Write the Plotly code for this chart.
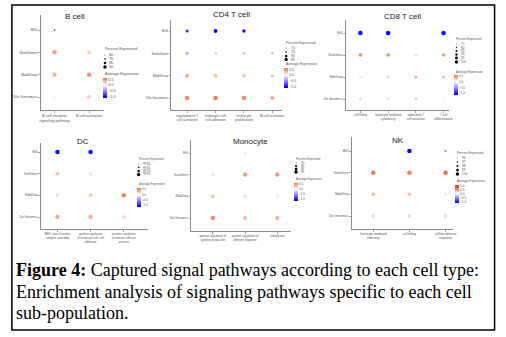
import plotly.graph_objects as go

W, H = 506, 337

ROWS = ["BGI", "SeekGene", "MobiDrop", "10x Genomics"]

# ---------------- data ----------------
bcell_title = "B cell"
bcell_pathways = ["B cell receptor<br>signaling pathway", "B cell activation"]
bcell_avg_exp = [[-1.1, 0.0], [0.4, 0.2], [0.35, 0.5], [0.05, 0.2]]
bcell_pct_exp = [[66, 58], [88, 84], [86, 87], [85, 85]]
bcell_pct_ticks = [60, 70, 80, 90]
bcell_avg_ticks = [0.5, 0.0, -0.5, -1.0]

cd4_title = "CD4 T cell"
cd4_pathways = ["regulation of T<br>cell activation", "leukocyte cell-<br>cell adhesion",
                "leukocyte<br>proliferation", "B cell activation"]
cd4_avg_exp = [[-0.9, -1.1, -1.0, -0.1], [-0.4, -0.2, -0.25, -0.45],
               [0.35, 0.25, 0.25, 0.3], [0.5, 0.55, 0.5, 0.45]]
cd4_pct_exp = [[80, 84, 82, 66], [80, 79, 79, 74], [85, 85, 85, 80], [88, 88, 88, 82]]
cd4_pct_ticks = [70, 75, 80, 85]
cd4_avg_ticks = [0.5, 0.0, -0.5, -1.0]

cd8_title = "CD8 T cell"
cd8_pathways = ["cell killing", "leukocyte mediated<br>cytotoxicity",
                "alpha-beta T<br>cell activation", "T cell<br>differentiation"]
cd8_avg_exp = [[-1.1, -1.1, -0.35, -1.05], [0.5, 0.5, 0.15, 0.4],
               [0.1, 0.2, 0.35, 0.3], [0.15, 0.1, 0.2, 0.0]]
cd8_pct_exp = [[99, 99, 73, 99], [93, 93, 90, 93], [90, 90, 90, 90], [90, 90, 90, 88]]
cd8_pct_ticks = [75, 80, 85, 90, 95, 100]
cd8_avg_ticks = [0.5, 0.0, -0.5, -1.0]

dc_title = "DC"
dc_pathways = ["MHC class II protein<br>complex assembly",
               "positive regulation<br>of leukocyte cell\u2212cell<br>adhesion",
               "positive regulation<br>of immune effector<br>process"]
dc_avg_exp = [[-1.1, -1.05, -0.3], [0.25, 0.1, -0.1], [0.15, 0.25, 0.6], [0.35, 0.35, 0.2]]
dc_pct_exp = [[99.96, 99.96, 99.80], [99.93, 99.93, 99.80], [99.92, 99.92, 99.95], [99.95, 99.95, 99.92]]
dc_pct_ticks = [99.80, 99.85, 99.90, 99.95]
dc_avg_ticks = [0.5, 0.0, -0.5, -1.0]

mono_title = "Monocyte"
mono_pathways = ["positive regulation of<br>cytokine production",
                 "positive regulation of<br>defense response", "chemotaxis"]
mono_avg_exp = [[-0.5, -0.8, -0.4], [0.1, 0.4, 0.45], [0.25, 0.15, 0.05], [0.5, 0.3, 0.35]]
mono_pct_exp = [[62, 64, 62], [88, 90, 90], [86, 86, 84], [92, 88, 88]]
mono_pct_ticks = [70, 80, 85, 90]
mono_avg_ticks = [0.5, 0.0, -0.5, -1.0]

nk_title = "NK"
nk_pathways = ["leukocyte mediated<br>immunity", "cell killing", "cellular defense<br>response"]
nk_avg_exp = [[0.0, -1.1, -0.6], [0.6, 0.55, 0.7], [0.3, 0.25, 0.1], [0.15, 0.2, 0.15]]
nk_pct_exp = [[95.5, 100, 97], [100, 100, 100], [99, 99, 98.5], [99, 99, 99]]
nk_pct_ticks = [96, 97, 98, 99, 100]
nk_avg_ticks = [1.0, 0.5, 0.0, -0.5, -1.0]

caption_lines = [
    "<b>Figure 4:</b> Captured signal pathways according to each cell type:",
    "Enrichment analysis of signaling pathways specific to each cell",
    "sub-population.",
]

# ---------------- layout helpers ----------------
def fx(px):
    return px / W

def fy(py):
    return 1 - py / H

COLOR_STOPS = [(-1.1, (0, 0, 255)), (-0.55, (150, 125, 255)), (0.0, (255, 255, 255)),
               (0.55, (240, 125, 95)), (1.1, (225, 45, 25))]

def color_at(v):
    if v <= COLOR_STOPS[0][0]:
        c = COLOR_STOPS[0][1]
    elif v >= COLOR_STOPS[-1][0]:
        c = COLOR_STOPS[-1][1]
    else:
        for (v0, c0), (v1, c1) in zip(COLOR_STOPS[:-1], COLOR_STOPS[1:]):
            if v0 <= v <= v1:
                t = (v - v0) / (v1 - v0)
                c = tuple(c0[k] + t * (c1[k] - c0[k]) for k in range(3))
                break
    return "rgb(%d,%d,%d)" % tuple(round(x) for x in c)

def make_scale(cmin, cmax, n=21):
    return [[i / (n - 1), color_at(cmin + (cmax - cmin) * i / (n - 1))] for i in range(n)]

def size_of(p, pmin, pmax, lo=0.6, hi=4.5):
    if pmax == pmin:
        return hi
    t = (p - pmin) / (pmax - pmin)
    t = min(max(t, 0.0), 1.0)
    return lo + (hi - lo) * t

panels = [
    dict(title=bcell_title, paths=bcell_pathways, avg=bcell_avg_exp, pct=bcell_pct_exp,
         pticks=bcell_pct_ticks, aticks=bcell_avg_ticks, cmin=-1.15, cmax=0.62, fs=3.8,
         ax=(40, 104, 54, 89), ay=(15, 110, 30, 97), title_xy=(75, 17),
         lx=103, pe_y=49, entries=[55, 59, 63, 67], ae_y=74, cb=(78, 98)),
    dict(title=cd4_title, paths=cd4_pathways, avg=cd4_avg_exp, pct=cd4_pct_exp,
         pticks=cd4_pct_ticks, aticks=cd4_avg_ticks, cmin=-1.15, cmax=0.62, fs=3.5,
         ax=(172, 284, 188, 274), ay=(20, 110, 31, 98), title_xy=(233, 15),
         lx=286, pe_y=43, entries=[48, 52, 56, 59.5], ae_y=64, cb=(68, 88)),
    dict(title=cd8_title, paths=cd8_pathways, avg=cd8_avg_exp, pct=cd8_pct_exp,
         pticks=cd8_pct_ticks, aticks=cd8_avg_ticks, cmin=-1.15, cmax=0.58, fs=3.0,
         ax=(348, 452, 363, 447), ay=(20, 110, 33, 99), title_xy=(406, 17),
         lx=458, pe_y=39, entries=[44, 47.5, 51, 54.5, 58, 62], ae_y=72, cb=(75, 95)),
    dict(title=dc_title, paths=dc_pathways, avg=dc_avg_exp, pct=dc_pct_exp,
         pticks=dc_pct_ticks, aticks=dc_avg_ticks, cmin=-1.15, cmax=0.62, fs=2.9,
         ax=(40, 148, 57, 124), ay=(143, 229, 152, 217), title_xy=(83, 141),
         lx=137, pe_y=159, entries=[164, 167.5, 171, 174.5], ae_y=184, cb=(188, 207)),
    dict(title=mono_title, paths=mono_pathways, avg=mono_avg_exp, pct=mono_pct_exp,
         pticks=mono_pct_ticks, aticks=mono_avg_ticks, cmin=-1.15, cmax=0.58, fs=2.9,
         ax=(192, 293, 214, 279), ay=(140, 231, 153, 218), title_xy=(252, 141),
         lx=296, pe_y=159, entries=[163, 166, 169, 172], ae_y=179, cb=(183, 201)),
    dict(title=nk_title, paths=nk_pathways, avg=nk_avg_exp, pct=nk_pct_exp,
         pticks=nk_pct_ticks, aticks=nk_avg_ticks, cmin=-1.15, cmax=1.05, fs=3.1,
         ax=(354, 457, 376, 449), ay=(137, 229, 151, 216), title_xy=(401, 140),
         lx=459, pe_y=153, entries=[158, 162, 166, 170, 174], ae_y=181, cb=(185, 203)),
]

FONT = "Liberation Sans, Arial, sans-serif"
TICKC = "#555555"
LINEC = "#8a8a8a"

fig = go.Figure()
layout = dict(width=W, height=H, margin=dict(l=0, r=0, t=0, b=0),
              paper_bgcolor="white", plot_bgcolor="white", showlegend=False,
              font=dict(family=FONT))
annotations = []
shapes = []

for i, p in enumerate(panels):
    k = i + 1
    sx = "" if k == 1 else str(k)
    paths = p["paths"]
    n = len(paths)
    fs = p["fs"]
    xs, ys, cs, ss = [], [], [], []
    flat_pct = [v for row in p["pct"] for v in row]
    pmin, pmax = min(flat_pct), max(flat_pct)
    for r, rname in enumerate(ROWS):
        for c, path in enumerate(paths):
            xs.append(path)
            ys.append(rname)
            cs.append(p["avg"][r][c])
            ss.append(size_of(p["pct"][r][c], pmin, pmax))
    fig.add_trace(go.Scatter(
        x=xs, y=ys, mode="markers", xaxis="x" + sx, yaxis="y" + sx,
        marker=dict(size=ss, color=cs, coloraxis="coloraxis" + sx, line=dict(width=0), opacity=1),
        hoverinfo="skip"))

    x0, x1, cf, cl = p["ax"]
    dx = (cl - cf) / (n - 1)
    xr = [(x0 - cf) / dx, (n - 1) + (x1 - cl) / dx]
    yt, yb, rt, rb = p["ay"]
    dy = (rb - rt) / 3
    yr = [-(yb - rb) / dy, 3 + (rt - yt) / dy]

    layout["xaxis" + sx] = dict(
        domain=[fx(x0), fx(x1)], anchor="y" + sx, type="category",
        categoryorder="array", categoryarray=paths, range=xr,
        showgrid=False, zeroline=False, showline=True, linecolor=LINEC, linewidth=1,
        ticks="outside", ticklen=1.5, tickcolor=LINEC, tickwidth=0.8,
        tickfont=dict(size=fs, color=TICKC, family=FONT), tickangle=0, fixedrange=True)
    layout["yaxis" + sx] = dict(
        domain=[fy(yb), fy(yt)], anchor="x" + sx, type="category",
        categoryorder="array", categoryarray=ROWS[::-1], range=yr,
        showgrid=False, zeroline=False, showline=True, linecolor=LINEC, linewidth=1,
        ticks="outside", ticklen=1.5, tickcolor=LINEC, tickwidth=0.8,
        tickfont=dict(size=fs, color=TICKC, family=FONT), fixedrange=True)

    cmin, cmax = p["cmin"], p["cmax"]
    cbt, cbb = p["cb"]
    layout["coloraxis" + sx] = dict(
        cmin=cmin, cmax=cmax, colorscale=make_scale(cmin, cmax),
        colorbar=dict(x=fx(p["lx"]), xanchor="left", y=fy(cbt), yanchor="top",
                      len=cbb - cbt, lenmode="pixels", thickness=4, thicknessmode="pixels",
                      outlinewidth=0, xpad=0, ypad=0, ticks="",
                      tickvals=p["aticks"],
                      ticktext=[("%.1f" % v).replace("-", "\u2212") for v in p["aticks"]],
                      tickfont=dict(size=fs, color=TICKC, family=FONT)))

    tx, ty = p["title_xy"]
    annotations.append(dict(text=p["title"], x=fx(tx), y=fy(ty), xref="paper", yref="paper",
                            xanchor="center", yanchor="middle", showarrow=False,
                            font=dict(size=8, color="#222222", family=FONT)))
    lx = p["lx"]
    annotations.append(dict(text="Percent Expressed", x=fx(lx), y=fy(p["pe_y"]), xref="paper",
                            yref="paper", xanchor="left", yanchor="middle", showarrow=False,
                            font=dict(size=fs, color=TICKC, family=FONT)))
    annotations.append(dict(text="Average Expression", x=fx(lx), y=fy(p["ae_y"]), xref="paper",
                            yref="paper", xanchor="left", yanchor="middle", showarrow=False,
                            font=dict(size=fs, color=TICKC, family=FONT)))
    dec = 2 if any(v != int(v) for v in p["pticks"]) else 0
    for tv, ey in zip(p["pticks"], p["entries"]):
        d = size_of(tv, min(p["pticks"]), max(p["pticks"]), lo=0.8, hi=3.4)
        shapes.append(dict(type="circle", xref="paper", yref="paper",
                           xsizemode="pixel", ysizemode="pixel",
                           xanchor=fx(lx + 2), yanchor=fy(ey),
                           x0=-d / 2, x1=d / 2, y0=-d / 2, y1=d / 2,
                           fillcolor="black", line=dict(width=0)))
        annotations.append(dict(text=("%.*f" % (dec, tv)), x=fx(lx + 4.5), y=fy(ey), xref="paper",
                                yref="paper", xanchor="left", yanchor="middle", showarrow=False,
                                font=dict(size=fs, color=TICKC, family=FONT)))

# caption
for line, cy in zip(caption_lines, [270, 291.5, 312.5]):
    annotations.append(dict(text=line, x=fx(13), y=fy(cy), xref="paper", yref="paper",
                            xanchor="left", yanchor="middle", showarrow=False,
                            font=dict(size=18, color="black", family="Liberation Serif")))

# outer border
shapes.append(dict(type="rect", xref="paper", yref="paper", x0=fx(11), x1=fx(498.5),
                   y0=fy(330), y1=fy(5), line=dict(color="black", width=1.5)))

layout["annotations"] = annotations
layout["shapes"] = shapes
fig.update_layout(**layout)
fig.write_html("out.html", config={"displayModeBar": False, "staticPlot": True},
               post_script="document.body.style.margin='0px';")
